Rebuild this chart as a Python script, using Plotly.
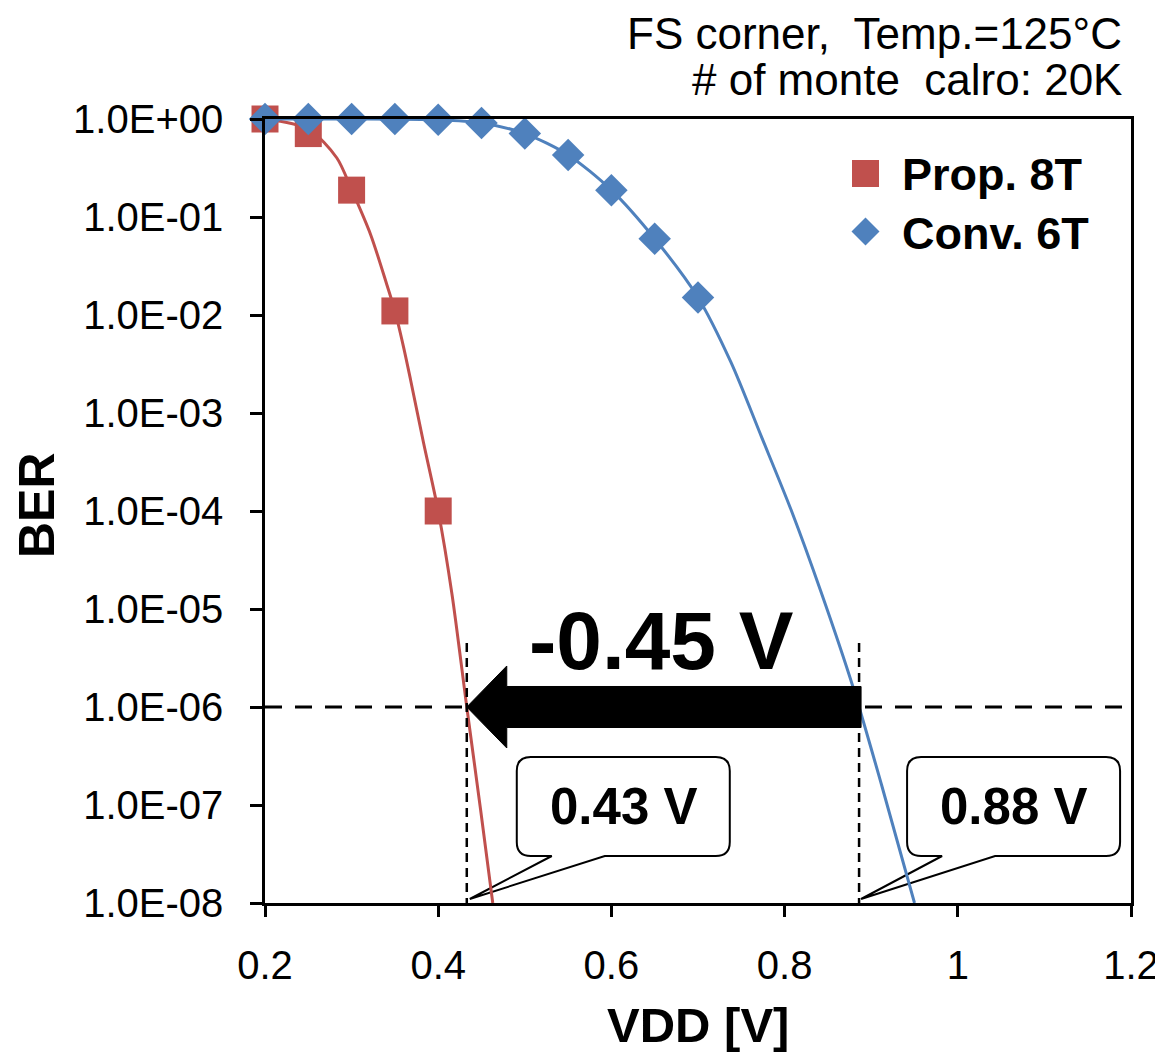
import math
import plotly.graph_objects as go

# ---------------- data ----------------
prop_x = [0.20, 0.25, 0.30, 0.35, 0.40]
prop_y = [1.0, 0.71, 0.188, 0.011, 1.0e-4]

conv_x = [0.20, 0.25, 0.30, 0.35, 0.40, 0.45, 0.50, 0.55, 0.60, 0.65, 0.70]
conv_y = [1.0, 1.0, 1.0, 1.0, 0.98, 0.91, 0.71, 0.43, 0.188, 0.060, 0.0151]

# fitted curves
prop_fit_x = [0.200, 0.250, 0.283, 0.300, 0.322, 0.341, 0.350, 0.360, 0.368,
              0.383, 0.400, 0.416, 0.433, 0.449, 0.463]
prop_fit_y = [1.0, 0.79, 0.40, 0.19, 0.066, 0.020, 0.011, 4.7e-3, 2.2e-3,
              5.0e-4, 1.0e-4, 1.4e-5, 1.0e-6, 8.9e-8, 1.0e-8]

conv_fit_x = [0.20, 0.30, 0.40, 0.45, 0.50, 0.55, 0.60, 0.65, 0.70, 0.738,
              0.773, 0.808, 0.842, 0.879, 0.912, 0.950]
conv_fit_y = [1.0, 1.0, 0.98, 0.91, 0.71, 0.43, 0.188, 0.060, 0.0151, 3.3e-3,
              5.8e-4, 1.0e-4, 1.5e-5, 1.6e-6, 1.6e-7, 1.0e-8]

ber_target = 1.0e-6
prop_cross = 0.433
conv_cross = 0.886

y_tickvals = [1e0, 1e-1, 1e-2, 1e-3, 1e-4, 1e-5, 1e-6, 1e-7, 1e-8]
y_ticktext = ["1.0E+00", "1.0E-01", "1.0E-02", "1.0E-03", "1.0E-04",
              "1.0E-05", "1.0E-06", "1.0E-07", "1.0E-08"]
x_tickvals = [0.2, 0.4, 0.6, 0.8, 1.0, 1.2]
x_ticktext = ["0.2", "0.4", "0.6", "0.8", "1", "1.2"]

# ---------------- layout geometry (screen pixels) ----------------
W, H = 1163, 1061
OFF = 8                      # page body margin
L, R, T, B = 265, 1131, 119, 903
XMIN, XMAX = 0.2, 1.2
YMIN, YMAX = -8, 0
FW, FH = W - OFF, H - 2 * OFF

RED = "#C0504D"
BLUE = "#4F81BD"
FONT = "Liberation Sans, Arial, sans-serif"


def px(x):
    return (x - L) / (R - L)


def py(y):
    return (B - y) / (B - T)


def xpix(v):
    return L + (v - XMIN) / (XMAX - XMIN) * (R - L)


def ypix(v):
    return B - (math.log10(v) - YMIN) / (YMAX - YMIN) * (B - T)


def path(points, close=True):
    s = ""
    for cmd, pts in points:
        s += cmd + " " + " ".join(f"{px(a):.5f},{py(b):.5f}" for a, b in pts) + " "
    if close:
        s += "Z"
    return s


fig = go.Figure()

fig.add_trace(go.Scatter(x=prop_fit_x, y=prop_fit_y, mode="lines",
                         line=dict(color=RED, width=3, shape="spline", smoothing=0.8),
                         showlegend=False, hoverinfo="skip"))
fig.add_trace(go.Scatter(x=prop_x, y=prop_y, mode="markers", name="Prop. 8T",
                         marker=dict(symbol="square", size=27, color=RED),
                         cliponaxis=False, showlegend=False))
fig.add_trace(go.Scatter(x=conv_fit_x, y=conv_fit_y, mode="lines",
                         line=dict(color=BLUE, width=3, shape="spline", smoothing=0.8),
                         showlegend=False, hoverinfo="skip"))
fig.add_trace(go.Scatter(x=conv_x, y=conv_y, mode="markers", name="Conv. 6T",
                         marker=dict(symbol="diamond", size=25, color=BLUE),
                         cliponaxis=False, showlegend=False))

shapes = []
annotations = []

# horizontal dashed line at target BER
yc = ypix(ber_target)
shapes.append(dict(type="line", xref="paper", yref="paper", x0=0, x1=1,
                   y0=py(yc), y1=py(yc), line=dict(color="black", width=3, dash="17px,13px"),
                   layer="above"))
# vertical dashed lines
for xv in (prop_cross, conv_cross):
    xp = xpix(xv)
    shapes.append(dict(type="line", xref="paper", yref="paper", x0=px(xp), x1=px(xp),
                       y0=py(643), y1=py(B), line=dict(color="black", width=2.5, dash="9px,6px"),
                       layer="above"))


# callout boxes
def callout(tip_x, left, txt):
    l, r, t, b = left, left + 213, 757, 856
    rad = 14
    p1, p2 = left + 35, left + 88
    tip = (tip_x, 899)
    pts = [("M", [(l + rad, t)]), ("L", [(r - rad, t)]), ("Q", [(r, t), (r, t + rad)]),
           ("L", [(r, b - rad)]), ("Q", [(r, b), (r - rad, b)]), ("L", [(p2, b)]),
           ("L", [tip]), ("L", [(p1, b)]), ("L", [(l + rad, b)]),
           ("Q", [(l, b), (l, b - rad)]), ("L", [(l, t + rad)]), ("Q", [(l, t), (l + rad, t)])]
    shapes.append(dict(type="path", xref="paper", yref="paper", path=path(pts),
                       fillcolor="white", line=dict(color="black", width=2), layer="below"))
    annotations.append(dict(xref="paper", yref="paper", x=px((l + r) / 2), y=py(806),
                            text=f"<b>{txt}</b>", showarrow=False, xanchor="center",
                            yanchor="middle", font=dict(family=FONT, size=51, color="black")))


callout(xpix(prop_cross) + 3, xpix(prop_cross) + 50, "0.43 V")
callout(xpix(conv_cross) + 2, xpix(conv_cross) + 48, "0.88 V")

# big arrow
tip_x = xpix(prop_cross)
tail_x = xpix(conv_cross) + 2
hb = tip_x + 40
arrow_pts = [("M", [(tail_x, yc - 20.5)]), ("L", [(hb, yc - 20.5)]), ("L", [(hb, yc - 41)]),
             ("L", [(tip_x, yc)]), ("L", [(hb, yc + 41)]), ("L", [(hb, yc + 20.5)]),
             ("L", [(tail_x, yc + 20.5)])]
shapes.append(dict(type="path", xref="paper", yref="paper", path=path(arrow_pts),
                   fillcolor="black", line=dict(color="black", width=1), layer="above"))
annotations.append(dict(xref="paper", yref="paper", x=px(661), y=py(640),
                        text="<b>-0.45 V</b>", showarrow=False, xanchor="center", yanchor="middle",
                        font=dict(family=FONT, size=82, color="black")))

# legend (manual)
shapes.append(dict(type="rect", xref="paper", yref="paper", x0=px(852), x1=px(879),
                   y0=py(187), y1=py(160), fillcolor=RED, line=dict(width=0)))
dc = (865.5, 231.5)
dpts = [("M", [(dc[0], dc[1] - 14)]), ("L", [(dc[0] + 14, dc[1])]),
        ("L", [(dc[0], dc[1] + 14)]), ("L", [(dc[0] - 14, dc[1])])]
shapes.append(dict(type="path", xref="paper", yref="paper", path=path(dpts),
                   fillcolor=BLUE, line=dict(width=0)))
annotations.append(dict(xref="paper", yref="paper", x=px(900), y=py(175),
                        text="<b>Prop. 8T</b>", showarrow=False, xanchor="left", yanchor="middle",
                        font=dict(family=FONT, size=45, color="black")))
annotations.append(dict(xref="paper", yref="paper", x=px(900), y=py(233),
                        text="<b>Conv. 6T</b>", showarrow=False, xanchor="left", yanchor="middle",
                        font=dict(family=FONT, size=45, color="black")))

# header text
annotations.append(dict(xref="paper", yref="paper", x=px(1124), y=py(33),
                        text="FS corner,  Temp.=125°C", showarrow=False, xanchor="right",
                        yanchor="middle", font=dict(family=FONT, size=44, color="black")))
annotations.append(dict(xref="paper", yref="paper", x=px(1124), y=py(80),
                        text="# of monte\u00a0 calro: 20K", showarrow=False, xanchor="right",
                        yanchor="middle", font=dict(family=FONT, size=44, color="black")))

# axis titles
annotations.append(dict(xref="paper", yref="paper", x=px(37), y=py(505), text="<b>BER</b>",
                        showarrow=False, textangle=-90, xanchor="center", yanchor="middle",
                        font=dict(family=FONT, size=50, color="black")))
annotations.append(dict(xref="paper", yref="paper", x=px(698), y=py(1025), text="<b>VDD [V]</b>",
                        showarrow=False, xanchor="center", yanchor="middle",
                        font=dict(family=FONT, size=49, color="black")))

fig.update_layout(
    autosize=False,
    width=FW, height=FH,
    margin=dict(l=L - OFF, r=FW - (R - OFF), t=T - OFF, b=FH - (B - OFF),
                pad=0, autoexpand=False),
    paper_bgcolor="white", plot_bgcolor="white",
    font=dict(family=FONT, color="black"),
    shapes=shapes, annotations=annotations, showlegend=False,
)
fig.update_xaxes(range=[XMIN, XMAX], tickvals=x_tickvals, ticktext=x_ticktext,
                 showgrid=False, zeroline=False, showline=True, linecolor="black", linewidth=2.5,
                 mirror=True, ticks="outside", ticklen=11, tickwidth=2.5, tickcolor="black",
                 ticklabelstandoff=14, ticklabeloverflow="allow", automargin=False,
                 tickfont=dict(family=FONT, size=40, color="black"))
fig.update_yaxes(type="log", range=[YMIN, YMAX], tickvals=y_tickvals, ticktext=y_ticktext,
                 showgrid=False, zeroline=False, showline=True, linecolor="black", linewidth=2.5,
                 mirror=True, ticks="outside", ticklen=12, tickwidth=2.5, tickcolor="black",
                 ticklabelstandoff=19, ticklabeloverflow="allow", automargin=False,
                 tickfont=dict(family=FONT, size=40, color="black"))

fig.write_html("out.html")
